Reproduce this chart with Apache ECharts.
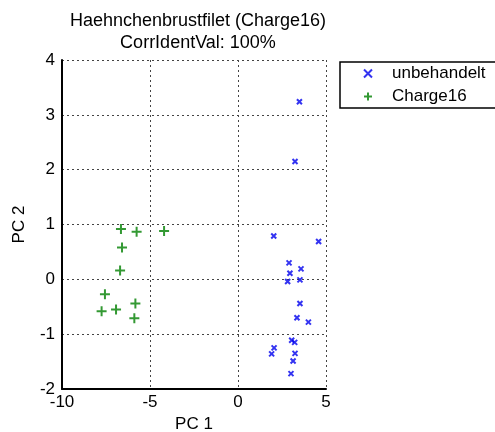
<!DOCTYPE html>
<html>
<head>
    <meta charset="utf-8">
    <title>Haehnchenbrustfilet</title>
    <script type="text/javascript" src="https://cdn.jsdelivr.net/npm/echarts@6/dist/echarts.min.js"></script>
    <style>
        html, body { margin: 0; padding: 0; background: #fff; }
    </style>
</head>
<body>
<div id="chart" style="width:495px;height:432px;"></div>
<script type="text/javascript">
    // PC scores
    var unbehandelt_x = [3.49, 3.24, 2.03, 4.58, 2.90, 3.58, 2.95, 3.52, 2.82, 3.52, 3.35, 4.00, 3.05, 3.22, 2.05, 1.91, 3.24, 3.13, 3.01];
    var unbehandelt_y = [3.24, 2.15, 0.79, 0.69, 0.30, 0.19, 0.11, -0.01, -0.04, -0.44, -0.70, -0.78, -1.11, -1.15, -1.25, -1.36, -1.35, -1.49, -1.72];
    var charge16_x = [-6.65, -5.76, -4.20, -6.59, -6.70, -7.56, -7.75, -6.93, -5.83, -5.89];
    var charge16_y = [0.92, 0.87, 0.88, 0.58, 0.16, -0.27, -0.58, -0.55, -0.44, -0.71];
    var seriesNames = ['unbehandelt', 'Charge16'];

    function pairs(xs, ys) {
        var out = [];
        for (var i = 0; i < xs.length; i++) {
            out.push([xs[i], ys[i]]);
        }
        return out;
    }

    var myChart = echarts.init(document.getElementById('chart'));

    var gridLine = { show: true, lineStyle: { color: '#444', width: 1, type: [2, 3] } };
    var labelFont = { color: '#000', fontSize: 17, fontFamily: 'Liberation Sans' };

    var option = {
        backgroundColor: '#fff',
        animation: false,
        title: {
            text: 'Haehnchenbrustfilet (Charge16)\nCorrIdentVal: 100%',
            left: 193,
            textAlign: 'center',
            top: 5,
            textStyle: { fontSize: 18, fontWeight: 'normal', color: '#000', fontFamily: 'Liberation Sans', lineHeight: 22 }
        },
        legend: {
            orient: 'vertical',
            left: 340,
            top: 62,
            data: seriesNames,
            borderColor: '#000',
            borderWidth: 1.5,
            padding: [3, 30, 3, 23],
            itemGap: 6,
            itemWidth: 8,
            itemHeight: 8,
            textStyle: { fontSize: 17, color: '#000', fontFamily: 'Liberation Sans', padding: [0, 0, 0, 15], height: 20 }
        },
        grid: { left: 62, top: 60, width: 264, height: 329, containLabel: false, outerBoundsMode: 'none' },
        xAxis: {
            type: 'value',
            min: -10, max: 5, interval: 5,
            name: 'PC 1', nameLocation: 'middle', nameGap: 27,
            nameTextStyle: labelFont,
            axisLine: { onZero: false, lineStyle: { color: '#000', width: 2 } },
            axisTick: { show: false },
            axisLabel: Object.assign({ margin: 5 }, labelFont),
            splitLine: gridLine
        },
        yAxis: {
            type: 'value',
            min: -2, max: 4, interval: 1,
            name: 'PC 2', nameLocation: 'middle', nameGap: 34,
            nameTextStyle: labelFont,
            axisLine: { show: true, onZero: false, lineStyle: { color: '#000', width: 2 } },
            axisTick: { show: false },
            axisLabel: Object.assign({ margin: 7 }, labelFont),
            splitLine: gridLine
        },
        series: [
            {
                name: 'unbehandelt',
                type: 'scatter',
                symbol: 'path://M0,0L10,10M10,0L0,10',
                symbolSize: 5,
                itemStyle: { color: 'rgba(0,0,0,0)', borderColor: '#0000ee', borderWidth: 2 },
                data: pairs(unbehandelt_x, unbehandelt_y)
            },
            {
                name: 'Charge16',
                type: 'scatter',
                symbol: 'path://M5,0L5,10M0,5L10,5',
                symbolSize: 10,
                itemStyle: { color: 'rgba(0,0,0,0)', borderColor: '#008000', borderWidth: 2 },
                data: pairs(charge16_x, charge16_y)
            }
        ]
    };
    myChart.setOption(option);
</script>
</body>
</html>
